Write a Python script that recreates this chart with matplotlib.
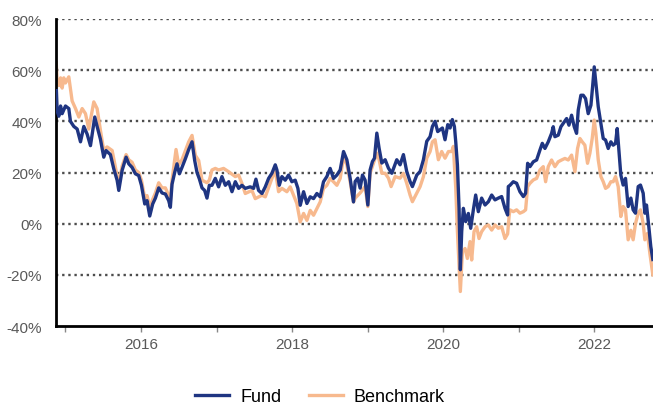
import matplotlib
matplotlib.use('Agg')
import matplotlib.pyplot as plt

plt.rcParams['font.family'] = ['Liberation Sans', 'DejaVu Sans']

# dates as decimal years, values in %
fund_dates = [
    2014.880, 2014.890, 2014.912, 2014.935, 2014.956, 2015.000, 2015.044, 2015.066, 2015.111, 2015.155,
    2015.199, 2015.243, 2015.287, 2015.331, 2015.388, 2015.419, 2015.463, 2015.507, 2015.538, 2015.595,
    2015.640, 2015.684, 2015.706, 2015.750, 2015.803, 2015.838, 2015.882, 2015.926, 2015.970, 2016.006,
    2016.050, 2016.080, 2016.116, 2016.155, 2016.191, 2016.235, 2016.279, 2016.323, 2016.367, 2016.389,
    2016.411, 2016.446, 2016.477, 2016.508, 2016.543, 2016.588, 2016.632, 2016.676, 2016.711, 2016.742,
    2016.773, 2016.808, 2016.843, 2016.874, 2016.905, 2016.940, 2016.984, 2017.028, 2017.072, 2017.117,
    2017.161, 2017.205, 2017.249, 2017.293, 2017.337, 2017.381, 2017.447, 2017.491, 2017.522, 2017.557,
    2017.602, 2017.646, 2017.690, 2017.734, 2017.778, 2017.800, 2017.831, 2017.866, 2017.910, 2017.954,
    2017.998, 2018.042, 2018.078, 2018.109, 2018.153, 2018.197, 2018.241, 2018.285, 2018.329, 2018.373,
    2018.417, 2018.461, 2018.505, 2018.549, 2018.594, 2018.638, 2018.682, 2018.726, 2018.770, 2018.814,
    2018.836, 2018.871, 2018.902, 2018.933, 2018.968, 2019.004, 2019.034, 2019.065, 2019.092, 2019.123,
    2019.153, 2019.189, 2019.233, 2019.277, 2019.321, 2019.387, 2019.431, 2019.475, 2019.519, 2019.563,
    2019.594, 2019.652, 2019.696, 2019.740, 2019.784, 2019.828, 2019.859, 2019.894, 2019.929, 2019.960,
    2019.991, 2020.026, 2020.062, 2020.093, 2020.123, 2020.150, 2020.168, 2020.190, 2020.212, 2020.229,
    2020.247, 2020.269, 2020.300, 2020.335, 2020.366, 2020.401, 2020.432, 2020.467, 2020.511, 2020.556,
    2020.600, 2020.644, 2020.688, 2020.732, 2020.776, 2020.820, 2020.855, 2020.864, 2020.886, 2020.930,
    2020.974, 2021.018, 2021.063, 2021.093, 2021.120, 2021.151, 2021.195, 2021.239, 2021.283, 2021.314,
    2021.349, 2021.393, 2021.437, 2021.459, 2021.481, 2021.525, 2021.561, 2021.605, 2021.636, 2021.667,
    2021.702, 2021.737, 2021.768, 2021.790, 2021.825, 2021.856, 2021.887, 2021.922, 2021.958, 2021.980,
    2022.002, 2022.024, 2022.055, 2022.090, 2022.121, 2022.152, 2022.187, 2022.222, 2022.253, 2022.284,
    2022.306, 2022.332, 2022.354, 2022.385, 2022.416, 2022.451, 2022.487, 2022.517, 2022.548, 2022.584,
    2022.614, 2022.650, 2022.672, 2022.694, 2022.725, 2022.751, 2022.778,
]
fund_values = [
    52.0, 44.0, 42.0, 46.0, 43.0, 46.0, 45.0, 40.0, 38.0, 37.0,
    32.0, 38.0, 35.0, 30.5, 41.7, 38.0, 33.0, 26.0, 28.6, 27.0,
    21.4, 17.0, 13.0, 20.8, 26.0, 23.4, 22.0, 19.5, 18.8, 15.0,
    7.7, 9.0, 3.0, 7.7, 10.0, 14.0, 12.0, 11.6, 9.0, 6.4,
    15.4, 20.0, 23.4, 19.5, 22.0, 25.4, 29.0, 32.0, 24.7, 20.0,
    17.5, 14.0, 13.0, 10.0, 15.0, 15.0, 17.7, 14.4, 18.4, 15.0,
    16.4, 12.5, 16.4, 13.8, 15.0, 13.8, 14.4, 13.8, 17.4, 13.0,
    11.8, 14.4, 17.7, 19.7, 23.0, 21.0, 15.0, 18.4, 17.0, 19.0,
    16.4, 17.0, 13.8, 7.2, 12.5, 7.9, 10.5, 9.8, 11.8, 10.5,
    16.4, 18.4, 21.6, 17.7, 19.0, 21.0, 28.2, 25.0, 17.7, 8.5,
    16.5, 17.8, 13.9, 19.0, 17.0, 7.3, 21.0, 24.3, 25.6, 35.4,
    29.5, 23.7, 25.0, 21.7, 19.7, 25.0, 23.0, 27.0, 20.4, 16.5,
    14.5, 19.0, 20.4, 25.0, 32.2, 34.0, 38.0, 40.0, 36.0, 36.7,
    37.4, 32.8, 38.7, 37.4, 40.7, 38.0, 32.0, 23.0, 6.0, -18.0,
    -3.0, 6.0, 0.8, 4.0, -1.8, 5.4, 11.2, 4.7, 10.0, 7.3,
    8.6, 11.2, 9.3, 10.0, 10.6, 6.0, 3.4, 14.5, 15.0, 16.4,
    15.8, 12.5, 10.6, 11.9, 23.6, 22.3, 24.2, 24.9, 28.8, 31.4,
    29.4, 32.0, 35.3, 37.9, 34.0, 34.6, 37.9, 39.8, 41.1, 38.5,
    42.4, 37.9, 35.3, 44.4, 50.2, 50.2, 48.9, 43.0, 46.3, 53.5,
    61.3, 54.8, 45.7, 39.2, 33.3, 32.7, 29.4, 32.0, 30.7, 31.4,
    37.2, 27.5, 19.0, 15.1, 17.7, 6.7, 10.0, 5.4, 4.1, 14.5,
    15.1, 11.9, 4.1, 7.3, -1.3, -9.0, -14.0,
]

bench_dates = [
    2014.878, 2014.890, 2014.912, 2014.935, 2014.956, 2014.978, 2015.000, 2015.044, 2015.088, 2015.133,
    2015.177, 2015.221, 2015.265, 2015.309, 2015.375, 2015.419, 2015.463, 2015.507, 2015.551, 2015.618,
    2015.662, 2015.706, 2015.750, 2015.803, 2015.838, 2015.882, 2015.926, 2015.970, 2016.006, 2016.050,
    2016.080, 2016.116, 2016.155, 2016.191, 2016.235, 2016.279, 2016.323, 2016.367, 2016.389, 2016.411,
    2016.464, 2016.499, 2016.543, 2016.632, 2016.676, 2016.720, 2016.764, 2016.808, 2016.874, 2016.905,
    2016.940, 2016.984, 2017.028, 2017.094, 2017.161, 2017.249, 2017.293, 2017.337, 2017.381, 2017.469,
    2017.513, 2017.602, 2017.646, 2017.734, 2017.778, 2017.822, 2017.866, 2017.932, 2017.976, 2018.020,
    2018.064, 2018.109, 2018.153, 2018.197, 2018.241, 2018.285, 2018.329, 2018.373, 2018.417, 2018.461,
    2018.505, 2018.549, 2018.594, 2018.638, 2018.682, 2018.726, 2018.770, 2018.814, 2018.836, 2018.902,
    2018.968, 2019.004, 2019.034, 2019.079, 2019.123, 2019.153, 2019.189, 2019.233, 2019.277, 2019.312,
    2019.365, 2019.431, 2019.475, 2019.519, 2019.563, 2019.594, 2019.652, 2019.696, 2019.740, 2019.784,
    2019.828, 2019.859, 2019.894, 2019.938, 2019.982, 2020.026, 2020.071, 2020.115, 2020.137, 2020.150,
    2020.168, 2020.190, 2020.212, 2020.229, 2020.256, 2020.291, 2020.322, 2020.357, 2020.379, 2020.410,
    2020.445, 2020.476, 2020.511, 2020.556, 2020.600, 2020.644, 2020.688, 2020.732, 2020.776, 2020.820,
    2020.855, 2020.875, 2020.886, 2020.930, 2020.974, 2021.018, 2021.063, 2021.093, 2021.120, 2021.151,
    2021.195, 2021.239, 2021.283, 2021.327, 2021.358, 2021.393, 2021.437, 2021.481, 2021.525, 2021.570,
    2021.614, 2021.658, 2021.702, 2021.746, 2021.781, 2021.812, 2021.843, 2021.878, 2021.913, 2021.944,
    2021.975, 2022.002, 2022.024, 2022.055, 2022.090, 2022.121, 2022.152, 2022.187, 2022.222, 2022.253,
    2022.284, 2022.319, 2022.354, 2022.385, 2022.416, 2022.451, 2022.487, 2022.517, 2022.548, 2022.584,
    2022.614, 2022.650, 2022.672, 2022.707, 2022.738, 2022.778,
]
bench_values = [
    63.0, 55.0, 54.0, 57.0, 53.0, 57.0, 55.0, 57.4, 48.0, 45.0,
    41.7, 45.0, 43.0, 37.0, 47.6, 45.0, 36.5, 28.6, 30.0, 28.6,
    22.0, 15.0, 22.5, 27.0, 25.0, 24.0, 21.0, 20.0, 17.0, 10.0,
    11.0, 6.4, 9.5, 12.0, 16.0, 14.0, 14.0, 11.0, 9.0, 17.0,
    29.0, 23.0, 25.0, 32.0, 34.5, 26.7, 24.7, 17.0, 16.0, 17.0,
    21.0, 21.6, 21.0, 21.6, 20.3, 18.4, 19.0, 15.7, 11.8, 13.0,
    9.8, 11.1, 10.5, 17.7, 21.0, 12.5, 13.8, 12.5, 14.4, 11.1,
    7.9, 0.7, 4.0, 1.3, 5.2, 3.3, 5.9, 8.5, 13.8, 15.0,
    17.7, 16.4, 15.0, 17.7, 26.2, 23.0, 16.4, 8.5, 10.0, 12.0,
    14.5, 6.7, 19.7, 23.7, 27.6, 25.0, 19.7, 19.7, 17.8, 14.5,
    18.4, 17.8, 19.7, 15.8, 11.2, 8.6, 12.0, 14.5, 18.4, 25.6,
    28.2, 32.0, 32.8, 25.0, 28.2, 25.6, 28.2, 28.2, 30.2, 23.0,
    14.0, -3.0, -16.0, -26.5, -11.0, -9.7, -13.6, -7.0, -14.2, -3.1,
    -1.2, -5.8, -3.1, -1.2, -0.5, -2.5, -0.5, -1.8, -1.2, -5.8,
    -4.0, 3.0, 5.4, 4.7, 5.4, 4.1, 4.7, 5.4, 14.5, 15.8,
    17.1, 17.7, 21.0, 22.3, 16.4, 22.3, 24.9, 22.3, 24.2, 24.9,
    25.5, 24.9, 26.8, 20.3, 29.4, 33.3, 32.0, 30.7, 23.6, 27.5,
    33.3, 40.5, 35.3, 24.9, 18.4, 16.4, 13.8, 14.5, 16.4, 16.4,
    18.4, 14.5, 2.8, 6.7, 5.4, -6.3, -2.6, -6.3, 0.0, 4.1,
    5.4, 0.0, -6.3, -3.8, -11.5, -20.0,
]

y_ticks = [-40, -20, 0, 20, 40, 60, 80]
year_ticks = [2015, 2016, 2017, 2018, 2019, 2020, 2021, 2022]
year_labels = ['', '2016', '', '2018', '', '2020', '', '2022']

fund_color = '#1f3582'
bench_color = '#f7b98e'
text_color = '#595959'

fig = plt.figure(figsize=(6.53, 4.10), dpi=100)
ax = fig.add_axes([0.0858, 0.2024, 0.9142, 0.7488])

for y in y_ticks[1:]:
    ax.axhline(y, color='#4d4d4d', linestyle=(0, (1, 1.6)), linewidth=1.7, zorder=1)

ax.plot(bench_dates, bench_values, color=bench_color, linewidth=2.4, label='Benchmark', zorder=2)
ax.plot(fund_dates, fund_values, color=fund_color, linewidth=2.4, label='Fund', zorder=3)

ax.set_xlim(2014.875, 2022.78)
ax.set_ylim(-40, 80)
ax.set_yticks(y_ticks)
ax.set_yticklabels([f'{v}%' for v in y_ticks])
ax.set_xticks(year_ticks)
ax.set_xticklabels(year_labels)

ax.tick_params(axis='y', length=0, pad=10, labelsize=11, labelcolor=text_color)
ax.tick_params(axis='x', length=4, width=1, color='#888888', pad=4, labelsize=11, labelcolor=text_color)

for side in ['top', 'right']:
    ax.spines[side].set_visible(False)
ax.spines['left'].set_linewidth(2)
ax.spines['bottom'].set_linewidth(2)
ax.spines['left'].set_color('black')
ax.spines['bottom'].set_color('black')

handles, labels = ax.get_legend_handles_labels()
fig.legend(handles[::-1], labels[::-1], loc='center', bbox_to_anchor=(0.49, 0.03),
           ncol=2, frameon=False, fontsize=13, handlelength=1.9, handletextpad=0.6,
           columnspacing=1.5)

fig.savefig('out.png', dpi=100)
